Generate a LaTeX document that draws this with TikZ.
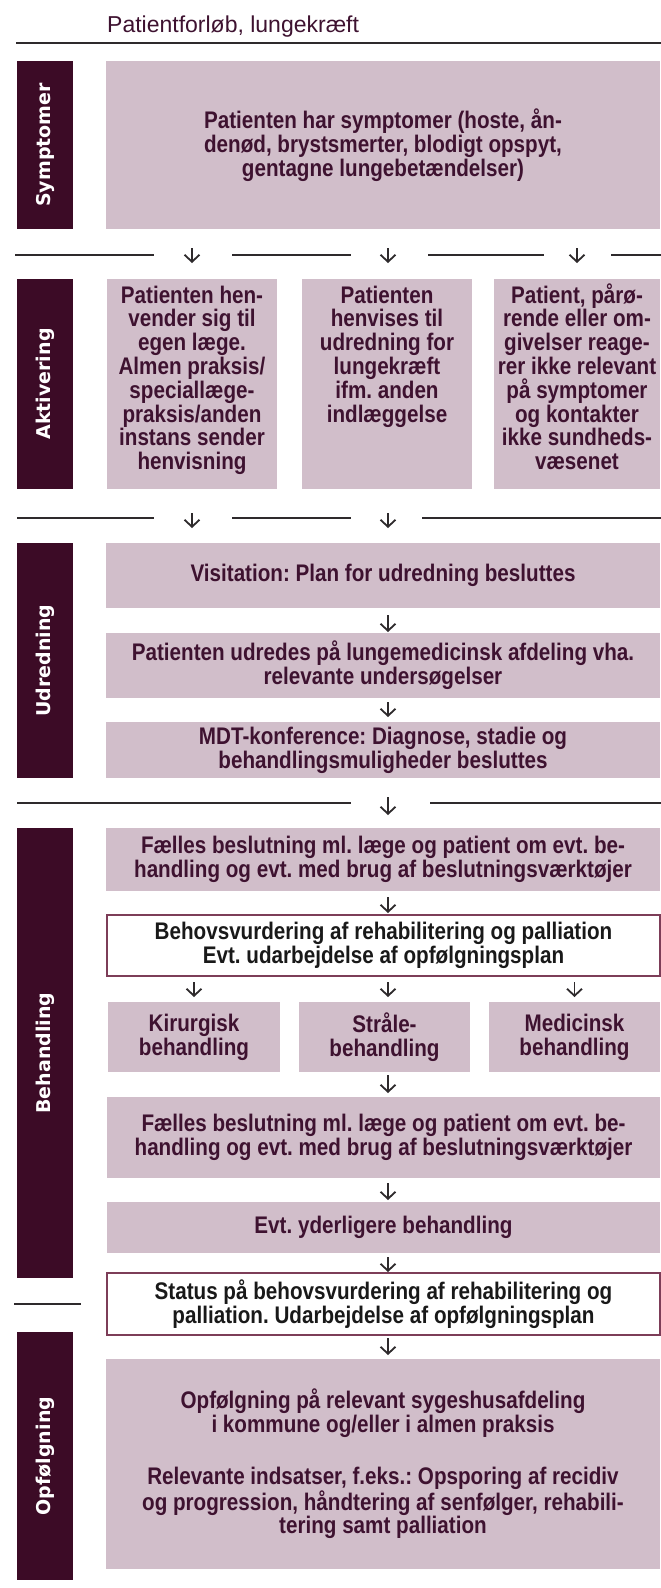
\documentclass[tikz,border=0pt]{standalone}
\usepackage{fontspec}
\setmainfont{Liberation Sans}
\newfontfamily\boxfont[FakeStretch=0.86]{Liberation Sans Bold}
\newfontfamily\sidefont{DejaVu Sans Bold}
\usetikzlibrary{positioning,arrows.meta}

\definecolor{plum}{HTML}{3C0B26}
\definecolor{mauve}{HTML}{D1BECA}
\definecolor{plumtext}{HTML}{3E1230}
\definecolor{frame}{HTML}{7D3D58}
\definecolor{rulecol}{HTML}{2E2A2C}

% top aligned text for the activation boxes
\newcommand{\topbox}[2]{\parbox[c][210pt][t]{#1}{\centering\rule{0pt}{24pt}#2}}

\tikzset{
  box/.style={fill=mauve, text=plumtext, font=\boxfont\fontsize{24}{23.8}\selectfont\frenchspacing,
    align=center, inner sep=0pt, outer sep=0pt, anchor=north west},
  whitebox/.style={box, fill=white, draw=frame, line width=1.3pt, text=black!90},
  side/.style={fill=plum, text=white, font=\sidefont\fontsize{19}{21}\selectfont,
    inner sep=0pt, outer sep=0pt, rotate=90, minimum height=56pt},
  arr/.style={-{Straight Barb[length=7pt,width=15pt]}, line width=1.8pt, draw=rulecol},
  sep/.style={line width=2.4pt, draw=rulecol},
}

\begin{document}
\begin{tikzpicture}[x=1pt, y=-1pt]

  \fill[white] (0,0) rectangle (661,1588);
  \useasboundingbox (0,0) rectangle (661,1588);

  % title
  \node (title) [anchor=base west, inner sep=0pt, text=plumtext, font=\fontsize{23}{26}\selectfont] at (107,32) {Patientforløb, lungekræft};

  % phase bars on the left
  \node (symside) [side, minimum width=168pt] at (45,145) {Symptomer};
  \node (aktside) [side, minimum width=210pt] at (45,384) {Aktivering};
  \node (udrside) [side, minimum width=235pt] at (45,660.5) {Udredning};
  \node (behside) [side, minimum width=450pt] at (45,1053) {Behandling};
  \node (opfside) [side, minimum width=248pt] at (45,1456) {Opfølgning};

  % Symptomer
  \node (sym) [box, minimum width=554pt, minimum height=168pt] at (106,61)
    {Patienten har symptomer (hoste, ån-\\denød, brystsmerter, blodigt opspyt,\\gentagne lungebetændelser)};

  % Aktivering
  \node (act1) [box, minimum width=170pt, minimum height=210pt] at (107,279)
    {\topbox{170pt}{Patienten hen-\\vender sig til\\egen læge.\\Almen praksis/\\speciallæge-\\praksis/anden\\instans sender\\henvisning}};
  \node (act2) [box, minimum width=170pt, minimum height=210pt] at (302,279)
    {\topbox{170pt}{Patienten\\henvises til\\udredning for\\lungekræft\\ifm. anden\\indlæggelse}};
  \node (act3) [box, minimum width=166pt, minimum height=210pt] at (494,279)
    {\topbox{166pt}{Patient, pårø-\\rende eller om-\\givelser reage-\\rer ikke relevant\\på symptomer\\og kontakter\\ikke sundheds-\\væsenet}};

  % Udredning
  \node (vis) [box, minimum width=554pt, minimum height=65pt] at (106,543)
    {Visitation: Plan for udredning besluttes};
  \node (udr) [box, minimum width=554pt, minimum height=65pt] at (106,633)
    {Patienten udredes på lungemedicinsk afdeling vha.\\relevante undersøgelser};
  \node (mdt) [box, minimum width=554pt, minimum height=56pt] at (106,722)
    {MDT-konference: Diagnose, stadie og\\behandlingsmuligheder besluttes};

  % Behandling
  \node (fael1) [box, minimum width=554pt, minimum height=63pt] at (106,828)
    {Fælles beslutning ml. læge og patient om evt. be-\\handling og evt. med brug af beslutningsværktøjer};
  \node (behov) [whitebox, minimum width=553pt, minimum height=61pt] at (107,915)
    {Behovsvurdering af rehabilitering og palliation\\Evt. udarbejdelse af opfølgningsplan};
  \node (kir) [box, minimum width=172pt, minimum height=70pt] at (108,1002) {Kirurgisk\\behandling};
  \node (stra) [box, minimum width=171pt, minimum height=70pt] at (299,1002) {Stråle-\\behandling};
  \node (med) [box, minimum width=171pt, minimum height=70pt] at (489,1002) {Medicinsk\\behandling};
  \node (fael2) [box, minimum width=553pt, minimum height=81pt] at (107,1097)
    {Fælles beslutning ml. læge og patient om evt. be-\\handling og evt. med brug af beslutningsværktøjer};
  \node (evt) [box, minimum width=553pt, minimum height=51pt] at (107,1202)
    {Evt. yderligere behandling};
  \node (status) [whitebox, minimum width=553pt, minimum height=62pt] at (107,1273)
    {Status på behovsvurdering af rehabilitering og\\palliation. Udarbejdelse af opfølgningsplan};

  % Opfølgning
  \node (opf) [box, minimum width=554pt, minimum height=210pt] at (106,1359)
    {Opfølgning på relevant sygeshusafdeling\\i kommune og/eller i almen praksis\\[28pt]Relevante indsatser, f.eks.: Opsporing af recidiv\\og progression, håndtering af senfølger, rehabili-\\tering samt palliation};

  % separator lines
  \foreach \y/\a/\b in {42.7/16/661, 255/15/154, 255/232/351, 255/428/544, 255/611/661,
                        518/17/154, 518/232/351, 518/422/661, 803/17/351, 803/430/661, 1304/14/81}
    \draw[sep] (\a,\y) -- (\b,\y);

  \coordinate (mid) at (388,0);

  % arrows
  \draw[arr, shorten <=19pt, shorten >=16pt] (sym.south -| act1) -- (act1.north);
  \draw[arr, shorten <=19pt, shorten >=16pt] (sym.south -| mid) -- (act2.north -| mid);
  \draw[arr, shorten <=19pt, shorten >=16pt] (sym.south -| act3) -- (act3.north);
  \draw[arr, shorten <=24pt, shorten >=15pt] (act1.south) -- (act1.south |- vis.north);
  \draw[arr, shorten <=24pt, shorten >=15pt] (act2.south -| mid) -- (vis.north -| mid);
  \draw[arr, shorten <=7pt, shorten >=1pt] (vis.south -| mid) -- (udr.north -| mid);
  \draw[arr, shorten <=4pt, shorten >=5pt] (udr.south -| mid) -- (mdt.north -| mid);
  \draw[arr, shorten <=19pt, shorten >=13pt] (mdt.south -| mid) -- (fael1.north -| mid);
  \draw[arr, shorten <=6pt, shorten >=2pt] (fael1.south -| mid) -- (behov.north -| mid);
  \draw[arr, shorten <=6pt, shorten >=5pt] (behov.south -| kir) -- (kir.north);
  \draw[arr, shorten <=6pt, shorten >=5pt] (behov.south -| mid) -- (stra.north -| mid);
  \draw[arr, shorten <=6pt, shorten >=5pt] (behov.south -| med) -- (med.north);
  \draw[arr, shorten <=3pt, shorten >=4pt] (stra.south -| mid) -- (fael2.north -| mid);
  \draw[arr, shorten <=5pt, shorten >=2pt] (fael2.south -| mid) -- (evt.north -| mid);
  \draw[arr, shorten <=4pt, shorten >=1pt] (evt.south -| mid) -- (status.north -| mid);
  \draw[arr, shorten <=3pt, shorten >=4pt] (status.south -| mid) -- (opf.north -| mid);

\end{tikzpicture}
\end{document}
